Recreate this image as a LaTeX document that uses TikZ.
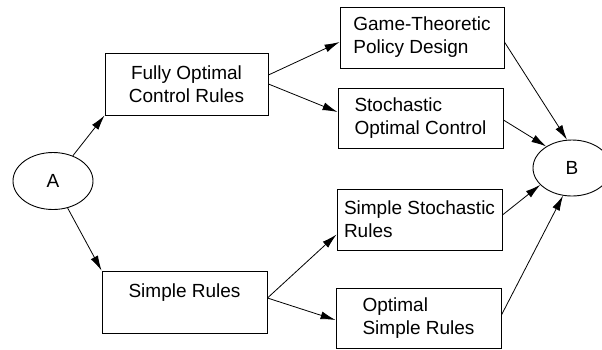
\documentclass[tikz,border=0pt]{standalone}
\usepackage{fontspec}
\setmainfont{Liberation Sans}
\usetikzlibrary{shapes.geometric,arrows.meta}

\tikzset{
  box/.style={draw, line width=0.9pt, minimum width=165pt, minimum height=61pt, inner xsep=1pt},
  oval/.style={draw, ellipse, line width=0.9pt, minimum width=80pt, minimum height=57pt},
  arr/.style={line width=0.8pt, -{Latex[length=15pt,width=8pt]}}
}

\begin{document}
\begin{tikzpicture}[x=1pt,y=-1pt, font=\fontsize{19}{23}\selectfont]
			\useasboundingbox (0,0) rectangle (602,349);

			\node (A) at (53,181) [oval] {A};
			\node (B) at (572,168) [oval, minimum width=78pt, minimum height=56pt] {B};

			\node (focr) at (186.5,84) [box, minimum width=163pt, minimum height=62pt, align=center] {Fully Optimal\\Control Rules};
			\node (sr) at (184.5,302) [box, minimum height=62pt, align=center] {Simple Rules\\~};

			\node (gtpd) at (422,37.5) [box, minimum width=164pt, align=left] {Game-Theoretic\\Policy Design};
			\node (soc) at (420.5,118) [box, minimum height=60pt, align=left] {Stochastic\\Optimal Control};
			\node (ssr) at (419.5,219.5) [box, align=left] {Simple Stochastic\\Rules};
			\node (osr) at (418.5,318) [box, minimum height=60pt, align=left] {Optimal\\Simple Rules};

			\draw[arr] (A) -- (focr.south west);
			\draw[arr] (A) -- (sr.north west);
			\draw[arr] ([yshift=9pt]focr.east) -- ([yshift=-4.5pt]gtpd.west);
			\draw[arr] (focr.east) -- ([yshift=6pt]soc.west);
			\draw[arr] ([yshift=4pt]sr.east) -- ([yshift=-15pt]ssr.west);
			\draw[arr] ([yshift=4pt]sr.east) -- ([yshift=-2pt]osr.west);
			\draw[arr] ([yshift=-4.5pt]gtpd.east) -- (B.100);
			\draw[arr] ([yshift=-2pt]soc.east) -- (B.140);
			\draw[arr] ([yshift=4.5pt]ssr.east) -- (B.208);
			\draw[arr] ([yshift=3pt]osr.east) -- (B.252);
		\end{tikzpicture}
\end{document}
